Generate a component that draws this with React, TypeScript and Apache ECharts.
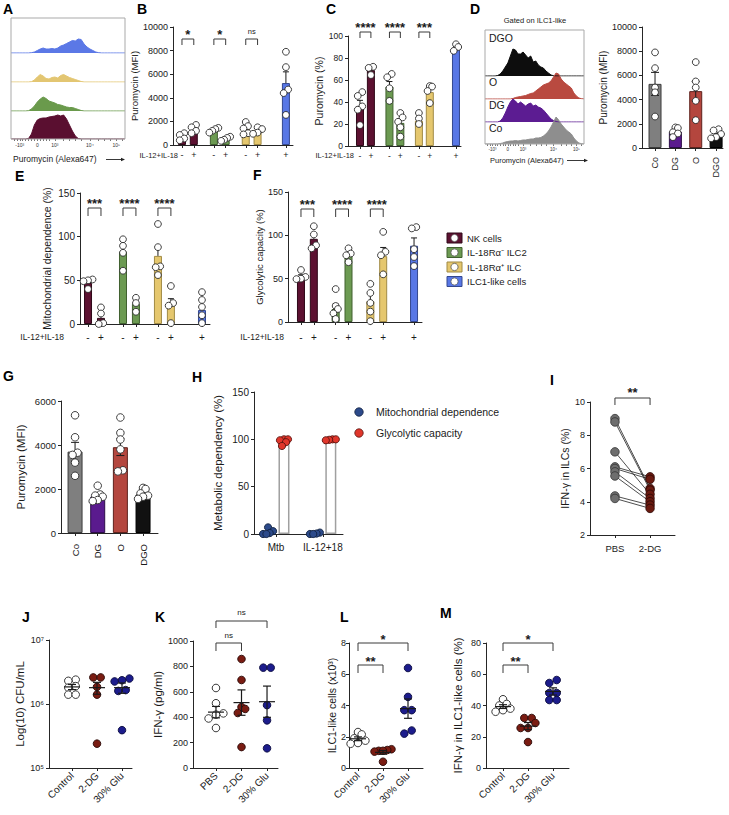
import React, { useEffect, useRef } from "react";
import * as echarts from "echarts";

const FONT = "'Liberation Sans', Arial, Helvetica, sans-serif";
const INK = "#1a1a1a";
const AX = "#262626";

// ---------- A: puromycin histograms (relative counts per bin) ----------
const histTickLabels = ["-10³", "0", "10³", "10⁴", "10⁵"];
const aHistILC1 = [0, 0, 0, 0, 0, 0, 0, 0.3, 1, 2.5, 4, 5, 4, 4, 4.5, 4, 5, 7, 8, 9.5, 11, 12.5, 12, 14, 13.5, 9, 6, 4, 2.5, 1, 0.3, 0, 0, 0, 0, 0, 0, 0, 0, 0];
const aHistR1 = [0, 0, 0, 0, 0, 0, 0, 0.3, 2, 5, 7.5, 6, 3.5, 3, 4.5, 5, 4, 6.5, 7.5, 6, 4.5, 3.5, 2.5, 1.5, 0.5, 0, 0, 0, 0, 0, 0, 0, 0, 0, 0, 0, 0, 0, 0, 0];
const aHistR0 = [0, 0, 0, 0, 0, 0, 0.3, 2, 5, 9, 12, 14, 12.5, 10, 9, 8, 6.5, 6, 5, 4, 3.5, 3.5, 2.5, 1.5, 0.5, 0, 0, 0, 0, 0, 0, 0, 0, 0, 0, 0, 0, 0, 0, 0];
const aHistNK = [0, 0, 0, 0, 0, 0, 0.5, 5, 14, 19, 20.5, 21, 21, 22, 22.5, 23, 24, 23, 24, 20, 14, 8, 3, 0.5, 0, 0, 0, 0, 0, 0, 0, 0, 0, 0, 0, 0, 0, 0, 0, 0];

// ---------- D: histograms gated on ILC1-like ----------
const dLaneNames = ["DGO", "O", "DG", "Co"];
const dHistDGO = [0, 0, 0, 0, 0, 0.5, 2, 5, 9, 13, 20, 27, 26, 22, 22, 24, 21, 18, 20, 14, 15, 11, 9, 8, 5, 3, 1, 0.3, 0, 0, 0, 0, 0, 0, 0, 0, 0, 0, 0, 0];
const dHistO = [0, 0, 0, 0, 0, 0, 0, 0, 0, 0, 0, 0.5, 1.5, 2, 2.5, 3, 3.5, 4.5, 5.5, 6, 8, 10, 12, 14, 15, 16, 18, 22, 26, 25, 20, 17, 15, 13, 11, 6, 3, 1, 0.3, 0];
const dHistDG = [0, 0, 0, 0, 0, 0, 1, 4, 9, 15, 20, 23, 21, 18, 20, 18, 16, 18, 19, 16, 17, 15, 14, 12, 9, 6, 3, 1.5, 0.5, 0, 0, 0, 0, 0, 0, 0, 0, 0, 0, 0];
const dHistCo = [0, 0, 0, 0, 0, 0, 0.5, 1, 2, 2.5, 3, 3, 3.5, 3, 3.5, 4, 4, 4.5, 5, 5, 6, 6, 6.5, 8, 10, 13, 17, 22, 27, 24, 20, 17, 14, 12, 10, 6, 3, 1, 0.3, 0];

// ---------- B / C / E / F: cell types ± IL-12+IL-18 ----------
const cellTypes = ["NK cells", "IL-18Rα⁻ ILC2", "IL-18Rα⁺ ILC", "ILC1-like cells"];
const stimulation = ["-", "+", "-", "+", "-", "+", "+"];
const barCellType = [0, 0, 1, 1, 2, 2, 3];

const bMeans = [700, 1300, 1250, 550, 1400, 1250, 5250];
const bSem = [130, 150, 80, 80, 230, 120, 950];
const bPoints = [[1000, 850, 550, 400], [1700, 1500, 1200, 1000], [1450, 1350, 1200, 1050], [700, 600, 450, 350], [1950, 1600, 1400, 1000, 900], [1500, 1350, 1050, 950], [7900, 6600, 4700, 4400, 2550]];
const bSignif = ["*", "*", "ns"];

const cMeans = [36, 69, 54, 21, 23, 49, 88];
const cSem = [5.5, 2.5, 4.6, 4, 3, 4, 2];
const cPoints = [[49, 45.5, 36, 33, 19], [72, 71, 64.5], [65.5, 62.5, 52.5, 41], [30, 26, 22, 17, 8.5], [30, 25, 20], [54.5, 54, 50, 39], [92.5, 90, 86.5]];
const cSignif = ["****", "****", "***"];

const eMeans = [47, 7, 83, 23, 78, 22, 16];
const eSem = [3, 4.5, 7, 4.5, 10, 7, 4];
const ePoints = [[51, 50, 49, 40], [19, 12, 1, 0], [97, 89.5, 81.5, 61], [30, 24, 14], [114.5, 88, 66, 65, 56], [43.5, 24, 21, 1], [36.5, 27.5, 19.5, 10, 1]];
const eSignif = ["***", "****", "****"];

const fMeans = [52, 96, 15, 77, 24, 76, 88];
const fSem = [2.5, 6, 6, 3, 9, 10, 9];
const fPoints = [[60, 52, 50, 49.5], [110.5, 101, 88.5, 85], [38, 18.5, 15, 10, 3.5], [85, 79, 77, 69], [44, 33.5, 22, 12, 1], [104, 81, 77, 55], [109.5, 108, 84, 75, 64.5]];
const fSignif = ["***", "****", "****"];

// ---------- D (bars) / G: Co, DG, O, DGO ----------
const treatCodes = ["Co", "DG", "O", "DGO"];
const dMeans = [5300, 1350, 4700, 1050];
const dSem = [950, 170, 800, 150];
const dPoints = [[7900, 6600, 5000, 4600, 2600], [1700, 1650, 1300, 1200, 900], [7100, 5500, 5000, 3900, 2300], [1550, 1450, 1150, 900, 800]];

const gMeans = [3700, 1650, 3900, 1750];
const gSem = [420, 110, 380, 90];
const gPoints = [[5350, 4350, 3650, 3550, 3200, 2600], [2150, 1750, 1700, 1650, 1500, 1450], [5250, 4550, 4250, 3800, 2850, 2800], [2050, 2000, 1800, 1700, 1650, 1550]];

// ---------- H: metabolic dependency ----------
const hCategories = ["Mtb", "IL-12+18"];
const hSeriesNames = ["Mitochondrial dependence", "Glycolytic capacity"];
const hMitoMeans = [2, 0.5];
const hGlycMeans = [98, 99.5];
const hMitoPoints = [[7, 3, 1, 0, 0], [1.5, 0.5, 0, 0]];
const hGlycPoints = [[100, 100, 99, 97, 93], [100, 100, 99.5, 99]];

// ---------- I: paired IFN-γ in ILCs ----------
const iGroups = ["PBS", "2-DG"];
const iPBS = [9.0, 8.8, 7.0, 6.1, 6.0, 5.8, 5.55, 4.35, 4.2];
const i2DG = [4.8, 4.7, 4.45, 5.5, 5.35, 4.2, 4.0, 3.8, 3.6];
const iSignif = ["**"];

// ---------- J-M: in vivo treatments ----------
const jlmGroups = ["Control", "2-DG", "30% Glu"];
const kGroups = ["PBS", "2-DG", "30% Glu"];
const jPoints = [[2.4e6, 2.3e6, 1.9e6, 1.8e6, 1.4e6, 1.4e6], [2.6e6, 2.6e6, 1.85e6, 1.4e6, 2.4e5], [2.5e6, 2.35e6, 2.25e6, 1.65e6, 1.6e6, 3.9e5]];
const jMeans = [1.85e6, 1.8e6, 1.8e6];
const jSem = [0.17e6, 0.38e6, 0.33e6];
const kPoints = [[630, 510, 430, 420, 390, 315], [858, 693, 480, 465, 433, 165], [790, 790, 495, 375, 155]];
const kMeans = [440, 515, 522];
const kSem = [45, 100, 123];
const kSignif = ["ns", "ns"];
const lPoints = [[2.3, 2.15, 1.9, 1.75, 1.6, 1.55], [1.2, 1.15, 1.1, 1.1, 1.05, 0.4], [6.4, 4.55, 3.7, 3.7, 2.4, 2.2]];
const lMeans = [1.87, 1.0, 3.8];
const lSem = [0.12, 0.12, 0.62];
const lSignif = ["**", "*"];
const mPoints = [[44, 41, 40, 38, 37, 36], [32, 32, 28.8, 25.6, 25.6, 16.6], [56.3, 54.4, 48, 48, 43.5, 43.5]];
const mMeans = [39.3, 26.8, 49];
const mSem = [1.2, 2.3, 2.3];
const mSignif = ["**", "*"];

// ---------- styling / layout ----------
const cellFill = ["#5c1131", "#6c9a52", "#e5c76e", "#5877e6"];
const cellStroke = ["#2e0818", "#40602f", "#a08a45", "#34488f"];
const aHistColors = ["#5b78e6", "#e3c672", "#6a9a4c", "#5a0f30"];
const dHistColors = ["#0d0d0d", "#b94a40", "#5c1c92", "#8e8e8e"];
const codeFill = ["#7f7f7f", "#5a1b8e", "#b4463e", "#111111"];
const codeStroke = ["#3c3c3c", "#2c0c48", "#5e221d", "#000000"];
const scatFill = ["#ffffff", "#7a1c12", "#1c1c8c"];
const scatStroke = ["#222222", "#2a0a08", "#0c0c40"];

const SLOTS = [0, 1, 2.7, 3.7, 5.4, 6.4, 8.8];
const PAIRS = [[0, 1], [2.7, 3.7], [5.4, 6.4]];
const HIST_LABEL_BINS = [3, 9, 15, 27, 36];
const HIST_TICK_BINS = [1, 2, 3, 4, 5, 6, 7, 8, 9, 10, 11, 12, 13, 15, 18, 20, 22, 24, 27, 30, 32, 34, 36, 38];
const LANE_H = 30;

type Box = { left: number; top: number; width: number; height: number };

function nearest(arr: number[], v: number) {
  let b = 0;
  for (let i = 1; i < arr.length; i++) if (Math.abs(arr[i] - v) < Math.abs(arr[b] - v)) b = i;
  return b;
}

// row-based horizontal spreading of overlapping points (in px)
function swarm(vals: number[], toPx: (v: number) => number, tol: number, spacing: number, maxSpread: number) {
  const order = vals.map((_, i) => i).sort((a, b) => toPx(vals[a]) - toPx(vals[b]));
  const offs = vals.map(() => 0);
  let row: number[] = [];
  let start = 0;
  const flush = () => {
    if (row.length < 2) return;
    const sp = Math.min(spacing, (2 * maxSpread) / (row.length - 1));
    row.forEach((id, j) => (offs[id] = (j - (row.length - 1) / 2) * sp));
  };
  order.forEach((id) => {
    const y = toPx(vals[id]);
    if (row.length && y - start > tol) {
      flush();
      row = [];
    }
    if (!row.length) start = y;
    row.push(id);
  });
  flush();
  return offs;
}

const linPx = (min: number, max: number, h: number) => (v: number) => ((v - min) / (max - min)) * h;
const logPx = (min: number, max: number, h: number) => (v: number) =>
  ((Math.log10(v) - Math.log10(min)) / (Math.log10(max) - Math.log10(min))) * h;

function gText(x: number, y: number, text: string, fs: number, o: any = {}) {
  const align = o.align || "left";
  const valign = o.valign || "middle";
  return {
    type: "text", x, y, silent: true, z: 20,
    style: {
      text, fill: o.color || INK, fontSize: fs, fontFamily: FONT, fontWeight: o.weight || "normal",
      align, verticalAlign: valign, textAlign: align, textVerticalAlign: valign,
    },
  };
}

function buildOption() {
  const grid: any[] = [];
  const xAxis: any[] = [];
  const yAxis: any[] = [];
  const series: any[] = [];
  const graphic: any[] = [];
  const axLine = { show: true, onZero: false, lineStyle: { color: AX, width: 1 } };

  const addGrid = (box: Box, x: any, y: any) => {
    const i = grid.length;
    grid.push({ ...box, containLabel: false, outerBoundsMode: "none", show: false });
    xAxis.push({ gridIndex: i, ...x });
    yAxis.push({ gridIndex: i, ...y });
    return i;
  };

  const yAx = (p: any) => {
    const ax: any = {
      type: p.log ? "log" : "value", min: p.min, max: p.max,
      name: p.name, nameLocation: "middle", nameRotate: 90, nameGap: p.gap,
      nameTextStyle: { fontFamily: FONT, fontSize: p.nameSize, color: INK },
      axisLine: axLine,
      axisTick: { show: true, length: 3, lineStyle: { color: AX, width: 1 } },
      axisLabel: {
        show: true, fontFamily: FONT, fontSize: p.labelSize, color: INK, margin: p.margin ?? 5,
        formatter: p.formatter || ((v: number) => String(v)),
      },
      splitLine: { show: false },
    };
    if (p.log) ax.logBase = 10;
    if (p.interval !== undefined) ax.interval = p.interval;
    return ax;
  };

  const xAx = (p: any) => ({
    type: "value", min: p.min, max: p.max,
    axisLine: axLine,
    axisTick: { show: true, length: 3, customValues: p.pos, lineStyle: { color: AX, width: 1 } },
    axisLabel: {
      show: true, customValues: p.pos, formatter: (v: number) => p.labels[nearest(p.pos, v)],
      fontFamily: FONT, fontSize: p.size, color: INK, margin: p.margin, rotate: p.rotate || 0,
    },
    splitLine: { show: false },
  });

  const dotSeries = (idx: number, pos: number[], pts: number[][], fills: string[], strokes: string[], r: number,
    toPx: (v: number) => number, spacing: number, maxSpread: number, z: number) => {
    const data: number[][] = [];
    pts.forEach((g, k) => {
      const offs = swarm(g, toPx, r * 1.4, spacing, maxSpread);
      g.forEach((v, j) => data.push([pos[k], v, offs[j], k]));
    });
    return {
      type: "custom", xAxisIndex: idx, yAxisIndex: idx, z, silent: true, clip: false, data,
      renderItem: (_p: any, api: any) => {
        const c = api.coord([api.value(0), api.value(1)]);
        const k = api.value(3);
        return { type: "circle", shape: { cx: c[0] + api.value(2), cy: c[1], r }, style: { fill: fills[k], stroke: strokes[k], lineWidth: 0.9 } };
      },
    };
  };

  const errSeries = (idx: number, pos: number[], means: number[], sems: number[], o: any) => ({
    type: "custom", xAxisIndex: idx, yAxisIndex: idx, z: o.z, silent: true, clip: false,
    data: means.map((m, k) => [pos[k], m, sems[k]]),
    renderItem: (_p: any, api: any) => {
      const x = api.value(0), m = api.value(1), s = api.value(2);
      const t = api.coord([x, m + s]);
      const c = api.coord([x, m]);
      const b = api.coord([x, m - s]);
      const st = { stroke: "#1a1a1a", lineWidth: o.width || 1 };
      const ch: any[] = [
        { type: "line", shape: { x1: t[0], y1: t[1], x2: t[0], y2: o.both ? b[1] : c[1] }, style: st },
        { type: "line", shape: { x1: t[0] - o.cap, y1: t[1], x2: t[0] + o.cap, y2: t[1] }, style: st },
      ];
      if (o.both) ch.push({ type: "line", shape: { x1: b[0] - o.cap, y1: b[1], x2: b[0] + o.cap, y2: b[1] }, style: st });
      if (o.meanHalf) ch.push({ type: "line", shape: { x1: c[0] - o.meanHalf, y1: c[1], x2: c[0] + o.meanHalf, y2: c[1] }, style: st });
      return { type: "group", children: ch };
    },
  });

  const bracketSeries = (idx: number, top: number, yRef: number, defs: any[]) => ({
    type: "custom", xAxisIndex: idx, yAxisIndex: idx, z: 6, silent: true, clip: false,
    data: defs.map((d, k) => [d.x1, yRef, d.x2, k]),
    renderItem: (_p: any, api: any) => {
      const d = defs[api.value(3)];
      const xa = api.coord([api.value(0), yRef])[0];
      const xb = api.coord([api.value(2), yRef])[0];
      const yt = top + d.dy;
      const star = d.label.indexOf("*") >= 0;
      const ty = top + d.cy + (star ? 0.22 * d.fs : -0.05 * d.fs);
      return {
        type: "group",
        children: [
          { type: "polyline", shape: { points: [[xa, yt + d.leg], [xa, yt], [xb, yt], [xb, yt + d.leg]] }, style: { stroke: "#3a3a3a", lineWidth: 1, fill: "none" } },
          {
            type: "text", x: (xa + xb) / 2, y: ty,
            style: { text: d.label, fill: INK, fontFamily: FONT, fontSize: d.fs, fontWeight: star ? "bold" : "normal", align: "center", verticalAlign: "middle", textAlign: "center", textVerticalAlign: "middle" },
          },
        ],
      };
    },
  });

  // ---------- bar + dots panels (B, C, E, F) ----------
  const cellBarPanel = (box: Box, xmin: number, xmax: number, ymax: number, interval: number, name: string, gap: number,
    nameSize: number, labelSize: number, signSize: number, signMargin: number,
    means: number[], sems: number[], pts: number[][], signif: string[], br: any) => {
    const idx = addGrid(box,
      xAx({ min: xmin, max: xmax, pos: SLOTS, labels: stimulation, size: signSize, margin: signMargin }),
      yAx({ min: 0, max: ymax, interval, name, gap, nameSize, labelSize }));
    series.push({
      type: "bar", xAxisIndex: idx, yAxisIndex: idx, barWidth: 8, silent: true, z: 2,
      data: means.map((m, k) => ({ value: [SLOTS[k], m], itemStyle: { color: cellFill[barCellType[k]], borderColor: cellStroke[barCellType[k]], borderWidth: 1 } })),
    });
    series.push(errSeries(idx, SLOTS, means, sems, { cap: 3, both: false, z: 3 }));
    series.push(dotSeries(idx, SLOTS, pts, pts.map(() => "#ffffff"), pts.map(() => "#2a2a2a"), 3.4,
      linPx(0, ymax, box.height), 4.5, 4.5, 4));
    series.push(bracketSeries(idx, box.top, 0, PAIRS.map((p, k) => ({
      x1: p[0], x2: p[1], dy: br.dy, leg: br.leg, cy: br.cy, label: signif[k], fs: signif[k] === "ns" ? 7.5 : 13,
    }))));
  };

  const boxB = { left: 173, top: 27, width: 120, height: 118 };
  cellBarPanel(boxB, -0.76, 9.4, 10000, 2000, "Puromycin (MFI)", 30, 9.5, 9, 9, 5,
    bMeans, bSem, bPoints, bSignif, { dy: 12, leg: 6, cy: 5 });
  const boxC = { left: 348, top: 36, width: 113, height: 110 };
  cellBarPanel(boxC, -1.1, 9.26, 100, 20, "Puromycin (%)", 13.5, 10.5, 8.5, 8.5, 5,
    cMeans, cSem, cPoints, cSignif, { dy: -4, leg: 6, cy: -11 });
  const boxE = { left: 80, top: 193, width: 130, height: 131 };
  cellBarPanel(boxE, -0.62, 9.42, 150, 50, "Mitochondrial dependence (%)", 27.5, 10.5, 10, 10, 8,
    eMeans, eSem, ePoints, eSignif, { dy: 15, leg: 8, cy: 8 });
  const boxF = { left: 288, top: 192, width: 134, height: 130 };
  cellBarPanel(boxF, -1.01, 9.42, 150, 50, "Glycolytic capacity (%)", 21, 9.5, 9, 10, 10,
    fMeans, fSem, fPoints, fSignif, { dy: 17, leg: 8, cy: 10 });

  // ---------- D bars and G bars ----------
  const codeBarPanel = (box: Box, xmin: number, xmax: number, ymax: number, interval: number, gap: number, nameSize: number,
    labelSize: number, catSize: number, catMargin: number, bw: number, r: number,
    means: number[], sems: number[], pts: number[][]) => {
    const pos = [0, 1, 2, 3];
    const idx = addGrid(box,
      xAx({ min: xmin, max: xmax, pos, labels: treatCodes, size: catSize, margin: catMargin, rotate: 90 }),
      yAx({ min: 0, max: ymax, interval, name: "Puromycin (MFI)", gap, nameSize, labelSize }));
    series.push({
      type: "bar", xAxisIndex: idx, yAxisIndex: idx, barWidth: bw, silent: true, z: 2,
      data: means.map((m, k) => ({ value: [pos[k], m], itemStyle: { color: codeFill[k], borderColor: codeStroke[k], borderWidth: 1 } })),
    });
    series.push(errSeries(idx, pos, means, sems, { cap: 4, both: true, z: 3 }));
    series.push(dotSeries(idx, pos, pts, pts.map(() => "#ffffff"), pts.map(() => "#2a2a2a"), r,
      linPx(0, ymax, box.height), 5, 5.5, 4));
  };
  codeBarPanel({ left: 642, top: 27, width: 81, height: 121 }, -0.64, 3.34, 10000, 2000, 34, 10, 9, 9, 9, 13, 3.4, dMeans, dSem, dPoints);
  codeBarPanel({ left: 61, top: 401, width: 97, height: 132 }, -0.62, 3.66, 6000, 2000, 34, 11.5, 9.5, 9.5, 11, 15, 3.8, gMeans, gSem, gPoints);

  // ---------- histogram lanes (A and D) ----------
  const histLane = (left: number, width: number, baseline: number, bins: number[], color: string, showAxis: boolean, labelSize: number) => {
    const idx = addGrid({ left, top: baseline - LANE_H, width, height: LANE_H }, {
      type: "category", data: bins.map((_, i) => String(i)), boundaryGap: false,
      axisLine: { show: false },
      axisTick: showAxis
        ? { show: true, length: 2, interval: (i: number) => HIST_TICK_BINS.indexOf(i) >= 0, lineStyle: { color: "#555", width: 0.8 } }
        : { show: false },
      axisLabel: showAxis
        ? {
          show: true, interval: (i: number) => HIST_LABEL_BINS.indexOf(i) >= 0,
          formatter: (v: string) => { const j = HIST_LABEL_BINS.indexOf(Number(v)); return j >= 0 ? histTickLabels[j] : ""; },
          fontSize: labelSize, margin: 3, color: "#333", fontFamily: FONT,
        }
        : { show: false },
      splitLine: { show: false },
    }, { type: "value", min: 0, max: LANE_H, show: false });
    series.push({
      type: "line", xAxisIndex: idx, yAxisIndex: idx, data: bins, symbol: "none", silent: true, z: 2,
      lineStyle: { color, width: 1 }, areaStyle: { color, opacity: 1 },
    });
  };
  const aHists = [aHistILC1, aHistR1, aHistR0, aHistNK];
  const aBase = [53, 82, 111, 139];
  aHists.forEach((h, k) => histLane(11, 114, aBase[k], h, aHistColors[k], k === 3, 5));
  const dHists = [dHistDGO, dHistO, dHistDG, dHistCo];
  const dBase = [76, 99, 122, 144];
  dHists.forEach((h, k) => histLane(485, 99, dBase[k], h, dHistColors[k], k === 3, 4.5));

  graphic.push({ type: "rect", shape: { x: 11, y: 18, width: 114, height: 121 }, style: { fill: "none", stroke: "#a9a9a9", lineWidth: 1 }, z: 15, silent: true });
  graphic.push({ type: "rect", shape: { x: 485, y: 30, width: 99, height: 114 }, style: { fill: "none", stroke: "#a9a9a9", lineWidth: 1 }, z: 15, silent: true });
  graphic.push(gText(535, 20, "Gated on ILC1-like", 7.5, { align: "center" }));
  const dLabelY = [38, 82, 105, 128];
  dLaneNames.forEach((n, k) => graphic.push(gText(489, dLabelY[k], n, 10.5)));

  const arrowLabel = (x: number, y: number, fs: number, x1: number, x2: number) => {
    graphic.push(gText(x, y, "Puromycin (Alexa647)", fs));
    graphic.push({ type: "line", shape: { x1, y1: y + 0.5, x2: x2 - 3, y2: y + 0.5 }, style: { stroke: "#222", lineWidth: 0.9 }, silent: true });
    graphic.push({ type: "polygon", shape: { points: [[x2, y + 0.5], [x2 - 4, y - 1.3], [x2 - 4, y + 2.3]] }, style: { fill: "#222" }, silent: true });
  };
  arrowLabel(13, 159, 8.5, 106, 125);
  arrowLabel(490, 160, 7.5, 567, 588);

  // ---------- H ----------
  const boxH = { left: 254, top: 392, width: 89, height: 142 };
  const hIdx = addGrid(boxH,
    xAx({ min: -0.47, max: 1.43, pos: [0, 1], labels: hCategories, size: 10, margin: 8 }),
    yAx({ min: 0, max: 150, interval: 50, name: "Metabolic dependency (%)", gap: 30, nameSize: 11.5, labelSize: 10 }));
  const hOff = 0.17;
  const hMitoPos = [0 - hOff, 1 - hOff];
  const hGlycPos = [0 + hOff, 1 + hOff];
  series.push({
    type: "bar", xAxisIndex: hIdx, yAxisIndex: hIdx, barWidth: 11, silent: true, z: 2,
    itemStyle: { color: "#ffffff", borderColor: "#a0a0a0", borderWidth: 1.5 },
    data: [...hMitoMeans.map((m, k) => [hMitoPos[k], m]), ...hGlycMeans.map((m, k) => [hGlycPos[k], m])],
  });
  const hToPx = linPx(0, 150, boxH.height);
  series.push(dotSeries(hIdx, hMitoPos, hMitoPoints, ["#2c4a8a", "#2c4a8a"], ["#10203f", "#10203f"], 3.6, hToPx, 4, 5, 4));
  series.push(dotSeries(hIdx, hGlycPos, hGlycPoints, ["#e0362b", "#e0362b"], ["#5a1410", "#5a1410"], 3.6, hToPx, 4, 5, 4));
  const hLegColors = [["#2c4a8a", "#10203f"], ["#e0362b", "#5a1410"]];
  hSeriesNames.forEach((n, k) => {
    const y = 412 + k * 21;
    graphic.push({ type: "circle", shape: { cx: 359, cy: y, r: 4.2 }, style: { fill: hLegColors[k][0], stroke: hLegColors[k][1], lineWidth: 0.8 }, silent: true });
    graphic.push(gText(376, y, n, 10.5));
  });

  // ---------- I ----------
  const boxI = { left: 590, top: 402, width: 85, height: 133 };
  const iIdx = addGrid(boxI,
    xAx({ min: -0.71, max: 1.71, pos: [0, 1], labels: iGroups, size: 9.5, margin: 8 }),
    yAx({ min: 2, max: 10, interval: 2, name: "IFN-γ in ILCs (%)", gap: 19.5, nameSize: 10.5, labelSize: 9 }));
  series.push({
    type: "custom", xAxisIndex: iIdx, yAxisIndex: iIdx, z: 3, silent: true, clip: false,
    data: iPBS.map((v, k) => [0, v, 1, i2DG[k]]),
    renderItem: (_p: any, api: any) => {
      const a = api.coord([api.value(0), api.value(1)]);
      const b = api.coord([api.value(2), api.value(3)]);
      return { type: "line", shape: { x1: a[0], y1: a[1], x2: b[0], y2: b[1] }, style: { stroke: "#222", lineWidth: 0.8 } };
    },
  });
  series.push({ type: "scatter", xAxisIndex: iIdx, yAxisIndex: iIdx, z: 4, silent: true, symbolSize: 8.5, data: iPBS.map((v) => [0, v]), itemStyle: { color: "#6e6e6e", borderColor: "#333", borderWidth: 0.8, opacity: 1 } });
  series.push({ type: "scatter", xAxisIndex: iIdx, yAxisIndex: iIdx, z: 4, silent: true, symbolSize: 8.5, data: i2DG.map((v) => [1, v]), itemStyle: { color: "#6a1a10", borderColor: "#2a0805", borderWidth: 0.8, opacity: 1 } });
  series.push(bracketSeries(iIdx, boxI.top, 2, [{ x1: 0, x2: 1, dy: -4, leg: 7, cy: -12, label: iSignif[0], fs: 13 }]));

  // ---------- J-M ----------
  const scatPanel = (box: Box, xmin: number, xmax: number, y: any, labels: string[], pts: number[][], means: number[], sems: number[], toPx: (v: number) => number) => {
    const idx = addGrid(box, xAx({ min: xmin, max: xmax, pos: [0, 1, 2], labels, size: 10, margin: 6, rotate: 45 }), yAx(y));
    series.push(dotSeries(idx, [0, 1, 2], pts, scatFill, scatStroke, 3.8, toPx, 7.4, 8.5, 3));
    series.push(errSeries(idx, [0, 1, 2], means, sems, { cap: 4, both: true, meanHalf: 8, z: 5, width: 1.2 }));
    return idx;
  };
  const boxJ = { left: 49, top: 640, width: 83, height: 128 };
  const sup: any = { 5: "⁵", 6: "⁶", 7: "⁷" };
  scatPanel(boxJ, -0.92, 2.4, {
    log: true, min: 1e5, max: 1e7, name: "Log(10) CFU/mL", gap: 20, nameSize: 11.5, labelSize: 9,
    formatter: (v: number) => "10" + (sup[Math.round(Math.log10(v))] || ""),
  }, jlmGroups, jPoints, jMeans, jSem, logPx(1e5, 1e7, boxJ.height));

  const boxK = { left: 193, top: 641, width: 85, height: 127 };
  const kIdx = scatPanel(boxK, -0.9, 2.43, { min: 0, max: 1000, interval: 200, name: "IFN-γ (pg/ml)", gap: 29, nameSize: 11.5, labelSize: 9 },
    kGroups, kPoints, kMeans, kSem, linPx(0, 1000, boxK.height));
  series.push(bracketSeries(kIdx, boxK.top, 0, [
    { x1: 0, x2: 1, dy: 2, leg: 8, cy: -5, label: kSignif[0], fs: 8 },
    { x1: 0, x2: 2, dy: -20, leg: 7, cy: -28, label: kSignif[1], fs: 8 },
  ]));

  const boxL = { left: 349, top: 643, width: 74, height: 125 };
  const lIdx = scatPanel(boxL, -0.36, 2.6, { min: 0, max: 8, interval: 2, name: "ILC1-like cells (x10³)", gap: 7, nameSize: 10.5, labelSize: 9, margin: 3 },
    jlmGroups, lPoints, lMeans, lSem, linPx(0, 8, boxL.height));
  series.push(bracketSeries(lIdx, boxL.top, 0, [
    { x1: 0, x2: 1, dy: 22, leg: 8, cy: 16, label: lSignif[0], fs: 13 },
    { x1: 0, x2: 2, dy: 0, leg: 8, cy: -6, label: lSignif[1], fs: 13 },
  ]));

  const boxM = { left: 486, top: 643, width: 83, height: 125 };
  const mIdx = scatPanel(boxM, -0.68, 2.64, { min: 0, max: 80, interval: 20, name: "IFN-γ in ILC1-like cells (%)", gap: 22, nameSize: 11.5, labelSize: 9 },
    jlmGroups, mPoints, mMeans, mSem, linPx(0, 80, boxM.height));
  series.push(bracketSeries(mIdx, boxM.top, 0, [
    { x1: 0, x2: 1, dy: 22, leg: 8, cy: 16, label: mSignif[0], fs: 13 },
    { x1: 0, x2: 2, dy: 0, leg: 8, cy: -6, label: mSignif[1], fs: 13 },
  ]));

  // ---------- free texts ----------
  graphic.push(gText(178, 155, "IL-12+IL-18", 7.5, { align: "right" }));
  graphic.push(gText(354, 155, "IL-12+IL-18", 7.5, { align: "right" }));
  graphic.push(gText(64, 337, "IL-12+IL-18", 8.5, { align: "right" }));
  graphic.push(gText(284, 337, "IL-12+IL-18", 8.5, { align: "right" }));

  cellTypes.forEach((n, k) => {
    const y = 238 + k * 14.5;
    graphic.push({ type: "rect", shape: { x: 447, y: y - 5, width: 15, height: 10 }, style: { fill: cellFill[k], stroke: cellStroke[k], lineWidth: 1 }, silent: true, z: 10 });
    graphic.push({ type: "circle", shape: { cx: 454.5, cy: y, r: 3.6 }, style: { fill: "#ffffff", stroke: "#555", lineWidth: 0.8 }, silent: true, z: 11 });
    graphic.push(gText(467, y, n, 9.5));
  });

  const letters: [string, number, number][] = [
    ["A", 3, 8.5], ["B", 137, 8.5], ["C", 326, 8.5], ["D", 470, 8.5],
    ["E", 15, 176], ["F", 253, 175], ["G", 3, 376], ["H", 192, 377], ["I", 550, 380],
    ["J", 22, 617], ["K", 155, 617], ["L", 340, 617], ["M", 440, 613],
  ];
  letters.forEach(([t, x, y]) => graphic.push(gText(x, y, t, 14, { weight: "bold", color: "#000" })));

  return {
    animation: false,
    backgroundColor: "#ffffff",
    textStyle: { fontFamily: FONT },
    grid, xAxis, yAxis, series,
    graphic: { elements: graphic },
  };
}

export default function App() {
  const ref = useRef<HTMLDivElement>(null);
  useEffect(() => {
    if (!ref.current) return;
    const chart = echarts.init(ref.current, null, { renderer: "svg" });
    chart.setOption(buildOption());
    return () => chart.dispose();
  }, []);
  return <div ref={ref} style={{ position: "absolute", left: 0, top: 0, width: 729, height: 815, background: "#fff" }} />;
}
